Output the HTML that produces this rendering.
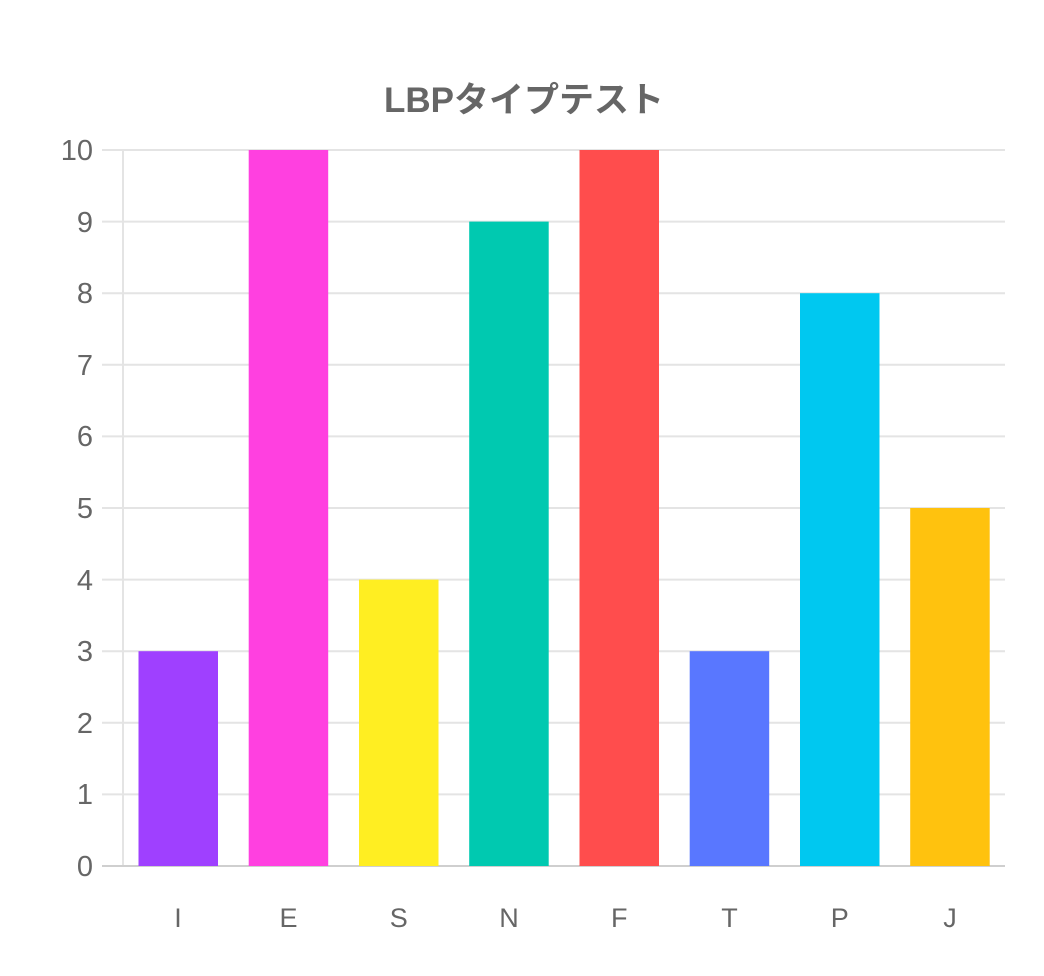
<!DOCTYPE html>
<html><head><meta charset="utf-8"><style>
html,body{margin:0;padding:0;background:#fff;}
svg{display:block;}
text{font-family:"Liberation Sans","Noto Sans CJK JP",sans-serif;fill:#666;}
</style></head><body>
<svg width="1044" height="976" viewBox="0 0 1044 976">
<text x="524" y="112" text-anchor="middle" font-size="35" font-weight="bold">LBPタイプテスト</text>
<g stroke="#e4e4e4" stroke-width="2">
<line x1="102" y1="150" x2="1005" y2="150"/>
<line x1="102" y1="221.6" x2="1005" y2="221.6"/>
<line x1="102" y1="293.2" x2="1005" y2="293.2"/>
<line x1="102" y1="364.8" x2="1005" y2="364.8"/>
<line x1="102" y1="436.4" x2="1005" y2="436.4"/>
<line x1="102" y1="508" x2="1005" y2="508"/>
<line x1="102" y1="579.6" x2="1005" y2="579.6"/>
<line x1="102" y1="651.2" x2="1005" y2="651.2"/>
<line x1="102" y1="722.8" x2="1005" y2="722.8"/>
<line x1="102" y1="794.4" x2="1005" y2="794.4"/>
<line x1="123" y1="150" x2="123" y2="866"/>
</g>
<line x1="102" y1="866" x2="1005" y2="866" stroke="#cfcfcf" stroke-width="2"/>
<g font-size="29" text-anchor="end">
<text x="93" y="160">10</text><text x="93" y="232">9</text><text x="93" y="303">8</text>
<text x="93" y="375">7</text><text x="93" y="446">6</text><text x="93" y="518">5</text>
<text x="93" y="590">4</text><text x="93" y="661">3</text><text x="93" y="733">2</text>
<text x="93" y="804">1</text><text x="93" y="876">0</text>
</g>
<rect x="138.5" y="651.2" width="79.5" height="214.8" fill="#9f40ff"/>
<rect x="248.7" y="150" width="79.5" height="716" fill="#ff40e0"/>
<rect x="359" y="579.6" width="79.5" height="286.4" fill="#ffee22"/>
<rect x="469.2" y="221.6" width="79.5" height="644.4" fill="#00c9b0"/>
<rect x="579.5" y="150" width="79.5" height="716" fill="#ff4d4d"/>
<rect x="689.7" y="651.2" width="79.5" height="214.8" fill="#5977ff"/>
<rect x="800" y="293.2" width="79.5" height="572.8" fill="#00c8f0"/>
<rect x="910.2" y="508" width="79.5" height="358" fill="#ffc20e"/>
<g font-size="27" text-anchor="middle">
<text x="178" y="927">I</text><text x="288.5" y="927">E</text><text x="398.7" y="927">S</text>
<text x="509" y="927">N</text><text x="619.2" y="927">F</text><text x="729.5" y="927">T</text>
<text x="839.7" y="927">P</text><text x="950" y="927">J</text>
</g>
</svg>
</body></html>
